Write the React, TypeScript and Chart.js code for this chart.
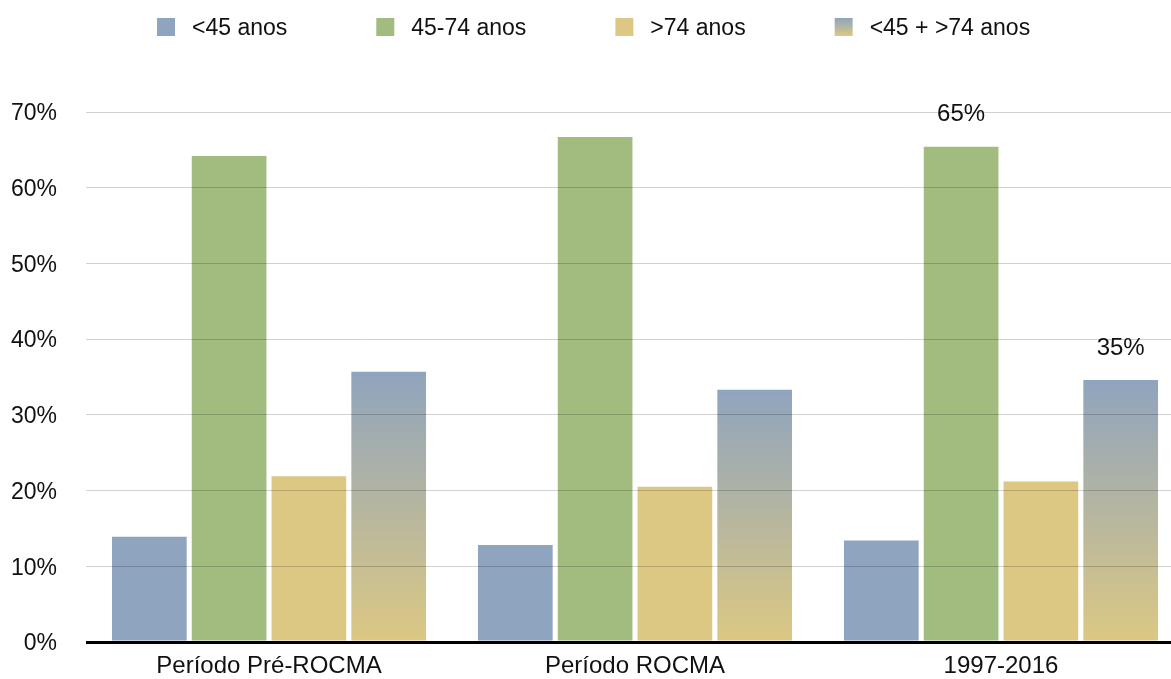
import { useEffect, useRef } from 'react';
import { Chart, registerables } from 'chart.js';

Chart.register(...registerables);

// Age-group share of cases per period (%)
const periods = ['Período Pré-ROCMA', 'Período ROCMA', '1997-2016'];
const seriesLabels = ['<45 anos', '45-74 anos', '>74 anos', '<45 + >74 anos'];
const under45 = [13.9, 12.8, 13.4];
const from45to74 = [64.2, 66.7, 65.4];
const over74 = [21.9, 20.5, 21.2];
const under45PlusOver74 = [35.7, 33.3, 34.6];

// y axis: 0% .. 70% in steps of 10
const yMin = 0;
const yMax = 70;
const yStep = 10;

// bars that carry a value label: [series index, period index]
const labelledBars: [number, number][] = [
  [1, 2],
  [3, 2],
];

const BLUE = '#8fa4be';
const GREEN = '#a2bb7e';
const YELLOW = '#dcc882';
const TEXT = '#111111';
const FONT = "'Liberation Sans', Arial, Helvetica, sans-serif";

function blueToYellow(ctx: CanvasRenderingContext2D, top: number, bottom: number) {
  const g = ctx.createLinearGradient(0, top, 0, bottom);
  g.addColorStop(0, BLUE);
  g.addColorStop(1, YELLOW);
  return g;
}

// Horizontal legend row across the top of the canvas
const topLegend = {
  id: 'topLegend',
  afterDraw(chart: any) {
    const { ctx } = chart;
    const boxSize = 18;
    const boxTop = 18;
    const textGap = 35;
    const itemGap = 89;
    let x = 157;
    ctx.save();
    ctx.font = `23px ${FONT}`;
    ctx.textBaseline = 'middle';
    ctx.textAlign = 'left';
    chart.data.datasets.forEach((ds: any, i: number) => {
      ctx.fillStyle = i === 3 ? blueToYellow(ctx, boxTop, boxTop + boxSize) : ds.backgroundColor;
      ctx.fillRect(x, boxTop, boxSize, boxSize);
      ctx.fillStyle = TEXT;
      ctx.fillText(ds.label, x + textGap, boxTop + boxSize / 2 + 2);
      x += textGap + ctx.measureText(ds.label).width + itemGap;
    });
    ctx.restore();
  },
};

// Percentage labels above selected bars
const valueLabels = {
  id: 'valueLabels',
  afterDatasetsDraw(chart: any) {
    const { ctx } = chart;
    ctx.save();
    ctx.font = `24px ${FONT}`;
    ctx.fillStyle = TEXT;
    ctx.textAlign = 'center';
    ctx.textBaseline = 'middle';
    labelledBars.forEach(([s, p]) => {
      const el = chart.getDatasetMeta(s).data[p];
      const v = chart.data.datasets[s].data[p] as number;
      if (el) ctx.fillText(`${Math.round(v)}%`, el.x, el.y - 32);
    });
    ctx.restore();
  },
};

export default function App() {
  const canvasRef = useRef<HTMLCanvasElement | null>(null);

  useEffect(() => {
    if (!canvasRef.current) return;
    const chart = new Chart(canvasRef.current, {
      type: 'bar',
      data: {
        labels: periods,
        datasets: [
          { label: seriesLabels[0], data: under45, backgroundColor: BLUE },
          { label: seriesLabels[1], data: from45to74, backgroundColor: GREEN },
          { label: seriesLabels[2], data: over74, backgroundColor: YELLOW },
          {
            label: seriesLabels[3],
            data: under45PlusOver74,
            backgroundColor: (c: any) => {
              const ch = c.chart;
              const ys = ch.scales && ch.scales.y;
              if (!ch.chartArea || !ys || c.type !== 'data') return BLUE;
              return blueToYellow(ch.ctx, ys.getPixelForValue(c.raw), ys.getPixelForValue(0));
            },
          },
        ],
      },
      options: {
        responsive: false,
        maintainAspectRatio: false,
        animation: false,
        layout: { padding: { top: 112, left: 0, right: 0, bottom: 0 } },
        datasets: { bar: { categoryPercentage: 0.872, barPercentage: 0.936 } },
        plugins: {
          legend: { display: false },
          tooltip: { enabled: false },
        },
        scales: {
          x: {
            grid: { display: false, drawTicks: false },
            border: { display: false },
            ticks: { color: TEXT, padding: 10, font: { family: FONT, size: 24 } },
            afterFit: (s: any) => {
              s.height = 37;
            },
          },
          y: {
            min: yMin,
            max: yMax,
            border: { display: false },
            grid: {
              z: 1,
              drawTicks: false,
              color: (c: any) => (c.tick && c.tick.value === 0 ? '#000000' : 'rgba(0,0,0,0.18)'),
              lineWidth: (c: any) => (c.tick && c.tick.value === 0 ? 3 : 1),
            },
            ticks: {
              stepSize: yStep,
              padding: 29,
              labelOffset: 2,
              color: TEXT,
              font: { family: FONT, size: 23 },
              callback: (v: any) => `${v}%`,
            },
            afterFit: (s: any) => {
              s.width = 86;
              s.paddingTop = 0;
              s.paddingBottom = 0;
            },
          },
        },
      },
      plugins: [topLegend, valueLabels],
    });
    return () => chart.destroy();
  }, []);

  return (
    <div
      style={{
        position: 'fixed',
        left: 0,
        top: 0,
        width: 1171,
        height: 679,
        overflow: 'hidden',
        background: '#ffffff',
      }}
    >
      <canvas ref={canvasRef} width={1184} height={679} style={{ display: 'block', width: 1184, height: 679 }} />
    </div>
  );
}
